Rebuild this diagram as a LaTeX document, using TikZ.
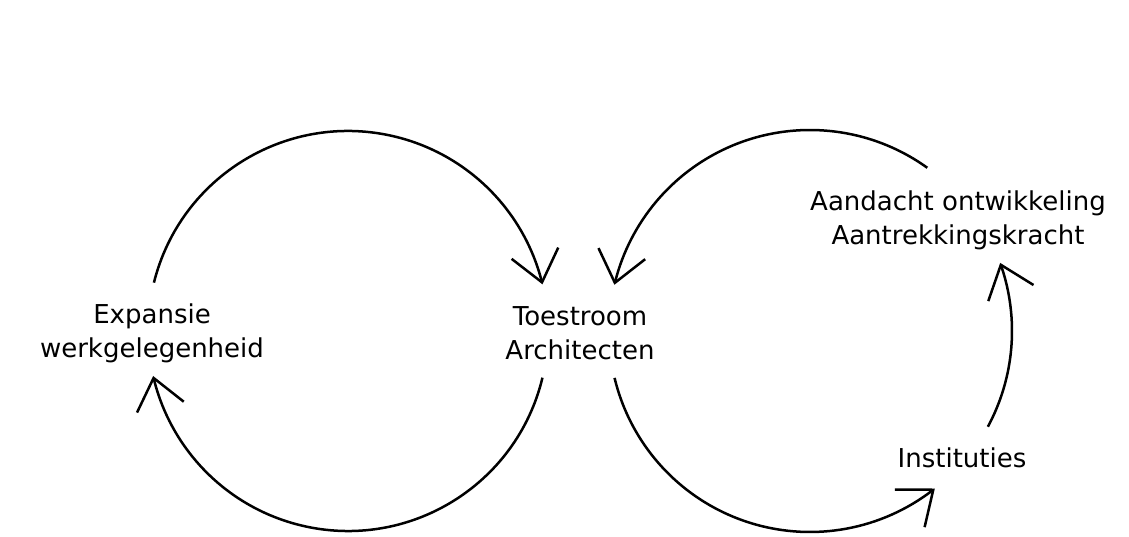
\documentclass[tikz,border=0pt]{standalone}
\usepackage{fontspec}
\setmainfont{DejaVu Sans}
\usetikzlibrary{arrows.meta,bending}
\begin{document}
\begin{tikzpicture}[x=1pt,y=1pt,
  lbl/.style={align=center,inner sep=0pt,font=\fontsize{26}{34}\selectfont},
  loop/.style={line width=2.5pt,-{Straight Barb[length=30pt,width=48pt,line width=2.5pt]}}]
\useasboundingbox (0,0) rectangle (1129,536);
\coordinate (cl) at (348,205);
\coordinate (cr) at (810,205);
\node[lbl] (exp) at (152,203) {Expansie\\werkgelegenheid};
\node[lbl] (toe) at (580,203) {Toestroom\\Architecten};
\node[lbl] (aan) at (958,316) {Aandacht ontwikkeling\\Aantrekkingskracht};
\node[lbl,anchor=base] (ins) at (962,69) {Instituties};
% left loop
\draw[loop] (cl) ++(166:200) arc[start angle=166,end angle=13.5,radius=200];
\draw[loop] (cl) ++(-13.5:200) arc[start angle=-13.5,end angle=-167,radius=200];
% right loop
\draw[loop] (cr) ++(54.3:201) arc[start angle=54.3,end angle=166.7,radius=201];
\draw[loop] (cr) ++(193.5:201) arc[start angle=193.5,end angle=308.4,radius=201];
\draw[loop] (cr) ++(-28.3:202) arc[start angle=-28.3,end angle=19.7,radius=202];
\end{tikzpicture}
\end{document}
